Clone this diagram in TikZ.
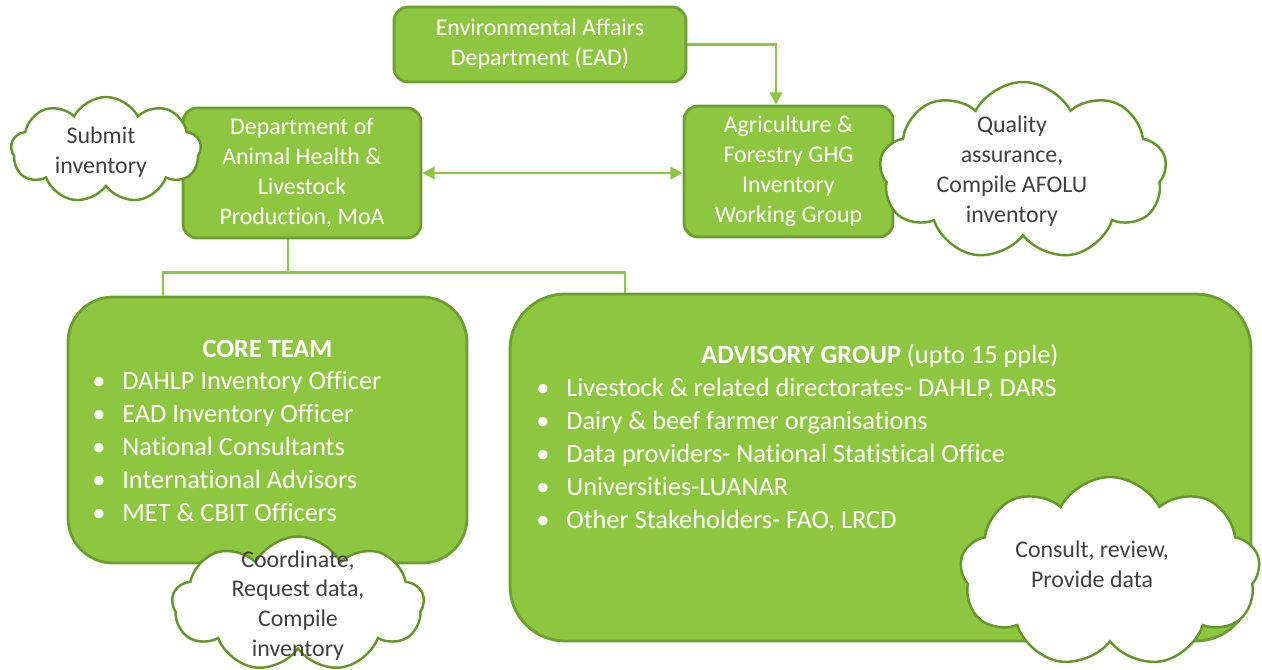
\documentclass[tikz,border=0pt]{standalone}
\usepackage{fontspec}
\setmainfont{Carlito}[Ligatures=NoCommon]
\usetikzlibrary{arrows.meta,shapes.symbols,positioning}

\definecolor{leaf}{RGB}{141,198,63}
\definecolor{leafdark}{RGB}{108,158,48}
\definecolor{puffline}{RGB}{100,150,40}
\definecolor{inktext}{RGB}{64,64,64}

\newcommand{\listbullet}{\makebox[0.6cm][l]{\textbullet}}

\begin{document}
\begin{tikzpicture}[
    unit/.style={draw=leafdark, fill=leaf, line width=1.6pt, rounded corners=0.28cm,
        text=white, align=center, font=\fontsize{13.6}{17}\selectfont, inner sep=0pt},
    team/.style={draw=leafdark, fill=leaf, line width=1.6pt, inner sep=0pt},
    bubble/.style={cloud, cloud puffs=9, cloud puff arc=125, cloud ignores aspect,
        draw=puffline, fill=white, line width=1.4pt, inner sep=0pt},
    bubbletext/.style={text=inktext, align=center, font=\fontsize{13.6}{17}\selectfont, inner sep=0pt},
    heading/.style={text=white, font=\fontsize{15}{18.7}\selectfont, inner sep=0pt, anchor=base},
    members/.style={text=white, align=left, font=\fontsize{15}{18.7}\selectfont, inner sep=0pt, anchor=north west},
    link/.style={draw=leaf, line width=1.6pt},
    >={Triangle[length=7pt,width=7pt]}
]
    \useasboundingbox (0,0) rectangle (25.24,-13.4);

    % top: environmental affairs
    \node[unit, minimum width=5.84cm, minimum height=1.5cm] (ead) at (10.8,-0.89)
        {Environmental Affairs\\Department (EAD)};

    % second row: the department and the working group
    \node[unit, minimum width=4.76cm, minimum height=2.6cm] (dahlp) at (6.04,-3.46)
        {Department of\\Animal Health \&\\Livestock\\Production, MoA};
    \node[unit, minimum width=4.18cm, minimum height=2.62cm] (afg) at (15.77,-3.43)
        {Agriculture \&\\Forestry GHG\\Inventory\\Working Group};

    % core team
    \node[team, rounded corners=0.9cm, minimum width=7.98cm, minimum height=5.32cm] (core) at (5.35,-8.6) {};
    \node[heading] (coretitle) at (5.35,-7.14) {\textbf{CORE TEAM}};
    \node[members] (corelist) at (1.84,-7.43)
        {\listbullet DAHLP Inventory Officer\\
         \listbullet EAD Inventory Officer\\
         \listbullet National Consultants\\
         \listbullet International Advisors\\
         \listbullet MET \& CBIT Officers};

    % advisory group
    \node[team, rounded corners=1.1cm, minimum width=14.82cm, minimum height=6.94cm] (adv) at (17.61,-9.35) {};
    \node[heading] (advtitle) at (17.6,-7.26) {\textbf{ADVISORY GROUP} (upto 15 pple)};
    \node[members] (advlist) at (10.72,-7.56)
        {\listbullet Livestock \& related directorates- DAHLP, DARS\\
         \listbullet Dairy \& beef farmer organisations\\
         \listbullet Data providers- National Statistical Office\\
         \listbullet Universities-LUANAR\\
         \listbullet Other Stakeholders- FAO, LRCD};

    % EAD feeds the working group
    \draw[link,->] (ead.east) -| ([xshift=-0.25cm]afg.north);
    % department <-> working group
    \draw[link,<->] (dahlp.east) -- (dahlp.east -| afg.west);

    % split down to both teams
    \coordinate (split) at ([xshift=-0.28cm, yshift=-0.66cm]dahlp.south);
    \draw[link] ([xshift=-0.28cm]dahlp.south) -- (split);
    \draw[link] ([xshift=-2.09cm]core.north) |- (split) -| ([xshift=-5.11cm]adv.north);

    % roles
    \node[bubble, minimum width=3.8cm, minimum height=2.12cm] (submit) at (2.12,-3.0) {};
    \node[bubbletext] (submittext) at ([xshift=-0.1cm,yshift=-0.04cm]submit.center) {Submit\\inventory};

    \node[bubble, minimum width=5.74cm, minimum height=3.56cm] (qa) at (20.46,-3.42) {};
    \node[bubbletext] (qatext) at ([xshift=-0.22cm]qa.center)
        {Quality\\assurance,\\Compile AFOLU\\inventory};

    \node[bubble, minimum width=5.04cm, minimum height=2.7cm] (coord) at (5.96,-12.08) {};
    \node[bubbletext] (coordtext) at ([yshift=-0.03cm]coord.center)
        {Coordinate,\\Request data,\\Compile\\inventory};

    \node[bubble, minimum width=6.0cm, minimum height=3.8cm] (consult) at (22.2,-11.44) {};
    \node[bubbletext] (consulttext) at ([xshift=-0.36cm,yshift=0.16cm]consult.center)
        {Consult, review,\\Provide data};
\end{tikzpicture}
\end{document}
